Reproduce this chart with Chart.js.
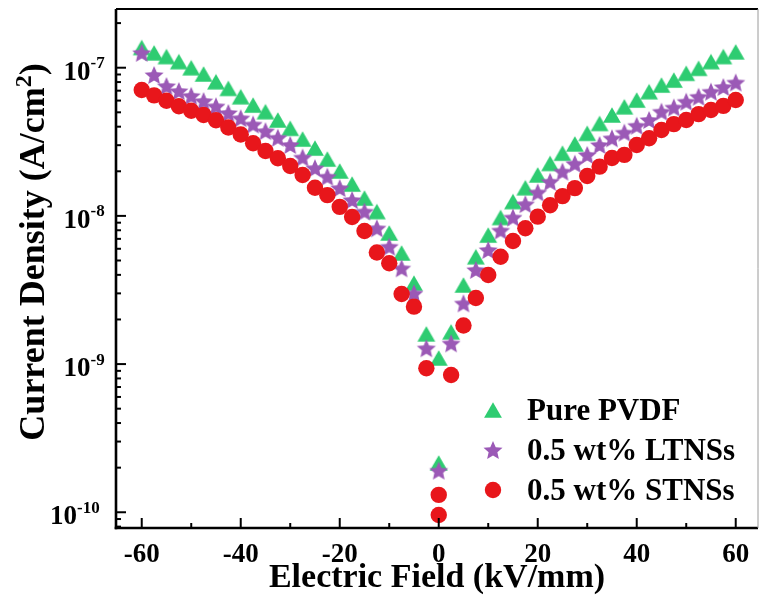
<!DOCTYPE html>
<html>
<head>
<meta charset="utf-8">
<title>J-E curves</title>
<script src="https://cdn.jsdelivr.net/npm/chart.js@4.4.1/dist/chart.umd.min.js"></script>
<style>
  body { margin: 0; background: #ffffff; }
  #wrap { width: 760px; height: 615px; }
</style>
</head>
<body>
<div id="wrap"><canvas id="jeChart"></canvas></div>
<script>
// electric field sweep in kV/mm (0 is measured twice: end of the negative sweep, start of the positive one)
const field = [-60, -57.5, -55, -52.5, -50, -47.5, -45, -42.5, -40, -37.5, -35, -32.5,
  -30, -27.5, -25, -22.5, -20, -17.5, -15, -12.5, -10, -7.5, -5, -2.5,
  0, 0,
  2.5, 5, 7.5, 10, 12.5, 15, 17.5, 20, 22.5, 25, 27.5, 30,
  32.5, 35, 37.5, 40, 42.5, 45, 47.5, 50, 52.5, 55, 57.5, 60];

// current density, A/cm2
const pvdf = [1.37e-7, 1.26e-7, 1.19e-7, 1.10e-7, 1.00e-7, 9.07e-8, 8.04e-8, 7.26e-8, 6.37e-8, 5.60e-8, 5.05e-8, 4.44e-8,
  3.90e-8, 3.30e-8, 2.87e-8, 2.42e-8, 2.01e-8, 1.64e-8, 1.32e-8, 1.07e-8, 7.67e-9, 5.62e-9, 3.52e-9, 1.60e-9,
  1.10e-9, 2.15e-10,
  1.65e-9, 3.42e-9, 5.30e-9, 7.43e-9, 9.76e-9, 1.25e-8, 1.55e-8, 1.89e-8, 2.26e-8, 2.65e-8, 3.06e-8, 3.61e-8,
  4.21e-8, 4.80e-8, 5.45e-8, 6.05e-8, 6.89e-8, 7.64e-8, 8.26e-8, 9.17e-8, 9.91e-8, 1.10e-7, 1.19e-7, 1.28e-7];

const ltns = [1.26e-7, 8.93e-8, 7.52e-8, 6.96e-8, 6.46e-8, 5.96e-8, 5.49e-8, 4.95e-8, 4.56e-8, 4.14e-8, 3.73e-8, 3.37e-8,
  3.01e-8, 2.48e-8, 2.10e-8, 1.84e-8, 1.54e-8, 1.28e-8, 1.07e-8, 8.25e-9, 6.20e-9, 4.43e-9, 3.00e-9, 1.28e-9,
  1.91e-10, null,
  1.38e-9, 2.57e-9, 4.32e-9, 5.89e-9, 7.97e-9, 9.76e-9, 1.20e-8, 1.44e-8, 1.70e-8, 1.99e-8, 2.25e-8, 2.58e-8,
  3.01e-8, 3.34e-8, 3.65e-8, 4.06e-8, 4.44e-8, 5.05e-8, 5.39e-8, 5.90e-8, 6.37e-8, 6.89e-8, 7.41e-8, 7.95e-8];

const stns = [7.07e-8, 6.51e-8, 5.98e-8, 5.49e-8, 5.12e-8, 4.80e-8, 4.42e-8, 3.95e-8, 3.54e-8, 3.09e-8, 2.74e-8, 2.45e-8,
  2.17e-8, 1.89e-8, 1.55e-8, 1.38e-8, 1.15e-8, 9.83e-9, 7.91e-9, 5.66e-9, 4.79e-9, 2.97e-9, 2.44e-9, 9.37e-10,
  1.31e-10, 9.59e-11,
  8.44e-10, 1.82e-9, 2.79e-9, 3.99e-9, 5.30e-9, 6.77e-9, 8.25e-9, 9.88e-9, 1.18e-8, 1.36e-8, 1.54e-8, 1.86e-8,
  2.15e-8, 2.46e-8, 2.58e-8, 3.01e-8, 3.34e-8, 3.80e-8, 4.16e-8, 4.44e-8, 4.86e-8, 5.18e-8, 5.53e-8, 6.05e-8];

const seriesNames = ['Pure PVDF', '0.5 wt% LTNSs', '0.5 wt% STNSs'];
const xTicks = [-60, -40, -20, 0, 20, 40, 60];
const xMinorTicks = [-50, -30, -10, 10, 30, 50];
const yDecades = [-10, -9, -8, -7];

const FONT = '"Liberation Serif", "Times New Roman", serif';
const GREEN = '#2ecc71';
const PURPLE = '#9b59b6';
const RED = '#e8161b';

function trianglePath(g, cx, cy, r) {
  const w = r * Math.sqrt(3), h = 1.5 * r;
  g.beginPath();
  g.moveTo(cx, cy - h / 2);
  g.lineTo(cx + w / 2, cy + h / 2);
  g.lineTo(cx - w / 2, cy + h / 2);
  g.closePath();
}

function starPath(g, cx, cy, R, r) {
  g.beginPath();
  for (let i = 0; i < 10; i++) {
    const rad = i % 2 ? r : R;
    const a = -Math.PI / 2 + i * Math.PI / 5;
    g.lineTo(cx + rad * Math.cos(a), cy + rad * Math.sin(a));
  }
  g.closePath();
}

function markerCanvas(size, pathFn, color) {
  const c = document.createElement('canvas');
  c.width = size; c.height = size;
  const g = c.getContext('2d');
  pathFn(g, size / 2);
  g.fillStyle = color;
  g.fill();
  return c;
}

const triImg = markerCanvas(24, (g, m) => trianglePath(g, m, m, 10.3), GREEN);
const starImg = markerCanvas(24, (g, m) => starPath(g, m, m + 0.9, 10, 4.6), PURPLE);

function pts(vals) {
  return field.map((x, i) => ({ x: x, y: vals[i] })).filter(p => p.y != null);
}

function line(ctx, x1, y1, x2, y2) {
  ctx.beginPath(); ctx.moveTo(x1, y1); ctx.lineTo(x2, y2); ctx.stroke();
}

// frame, inward ticks, 10^n labels, rotated y title and the legend
const decor = {
  id: 'decor',
  afterDraw(chart) {
    const ctx = chart.ctx;
    const a = chart.chartArea;
    const xs = chart.scales.x, ys = chart.scales.y;
    ctx.save();

    ctx.strokeStyle = '#000';
    ctx.lineWidth = 2;
    xTicks.forEach(v => { const px = xs.getPixelForValue(v); line(ctx, px, a.bottom, px, a.bottom - 10); });
    xMinorTicks.forEach(v => { const px = xs.getPixelForValue(v); line(ctx, px, a.bottom, px, a.bottom - 5); });

    for (let e = yDecades[0] - 1; e <= yDecades[yDecades.length - 1]; e++) {
      for (let k = 1; k <= 9; k++) {
        const v = k * Math.pow(10, e);
        if (v < ys.min || v > ys.max) continue;
        const py = ys.getPixelForValue(v);
        line(ctx, a.left, py, a.left + (k === 1 ? 10 : 5), py);
      }
    }

    // axes box
    ctx.lineWidth = 2.6;
    line(ctx, a.left, a.top, a.left, a.bottom + 1.3);
    line(ctx, a.left - 1.3, a.bottom, a.right, a.bottom);
    ctx.lineWidth = 2;
    line(ctx, a.left, a.top, a.right, a.top);
    ctx.strokeStyle = '#9a9a9a';
    ctx.lineWidth = 1;
    line(ctx, a.right, a.top, a.right, a.bottom);

    // y tick labels with superscript exponents
    ctx.fillStyle = '#000';
    ctx.textAlign = 'left';
    ctx.textBaseline = 'alphabetic';
    yDecades.forEach(e => {
      const py = ys.getPixelForValue(Math.pow(10, e));
      const sup = String(e);
      ctx.font = 'bold 27px ' + FONT;
      const wBase = ctx.measureText('10').width;
      const x0 = a.left - 3 - wBase - ctx.measureText(sup).width;
      ctx.fillText('10', x0, py + 12);
      ctx.font = 'bold 17px ' + FONT;
      ctx.fillText(sup, x0 + wBase, py + 0.5);
    });

    // y axis title
    ctx.save();
    ctx.translate(43.5, 252);
    ctx.rotate(-Math.PI / 2);
    const main = 'Current Density (A/cm';
    ctx.font = 'bold 36px ' + FONT;
    const wMain = ctx.measureText(main).width;
    const wClose = ctx.measureText(')').width;
    ctx.font = 'bold 24px ' + FONT;
    const wSup = ctx.measureText('2').width;
    let tx = -(wMain + wSup + wClose) / 2;
    ctx.font = 'bold 36px ' + FONT;
    ctx.fillText(main, tx, 0);
    tx += wMain;
    ctx.font = 'bold 24px ' + FONT;
    ctx.fillText('2', tx, -13);
    tx += wSup;
    ctx.font = 'bold 36px ' + FONT;
    ctx.fillText(')', tx, 0);
    ctx.restore();

    // legend
    const rows = [410, 450, 490];
    const marks = [triImg, starImg, null];
    ctx.font = 'bold 31px ' + FONT;
    rows.forEach((ry, i) => {
      if (marks[i]) {
        ctx.drawImage(marks[i], 493 - 12, ry - 12);
      } else {
        ctx.fillStyle = RED;
        ctx.beginPath(); ctx.arc(493, ry, 8.2, 0, Math.PI * 2); ctx.fill();
      }
      ctx.fillStyle = '#000';
      ctx.fillText(seriesNames[i], 527, ry + 10);
    });

    ctx.restore();
  }
};

new Chart(document.getElementById('jeChart'), {
  type: 'scatter',
  data: {
    datasets: [
      { label: seriesNames[0], data: pts(pvdf), pointStyle: triImg, pointRadius: 9, backgroundColor: GREEN, order: 3 },
      { label: seriesNames[1], data: pts(ltns), pointStyle: starImg, pointRadius: 9, backgroundColor: PURPLE, order: 2 },
      { label: seriesNames[2], data: pts(stns), pointStyle: 'circle', pointRadius: 8.2, borderWidth: 0,
        backgroundColor: RED, borderColor: RED, order: 1 }
    ]
  },
  options: {
    responsive: true,
    maintainAspectRatio: false,
    animation: false,
    layout: { autoPadding: false, padding: { top: 9, right: 2, left: 0, bottom: 0 } },
    plugins: { legend: { display: false }, tooltip: { enabled: false } },
    scales: {
      x: {
        type: 'linear',
        min: -65.2,
        max: 64.5,
        afterBuildTicks: s => { s.ticks = xTicks.map(v => ({ value: v })); },
        afterFit: s => { s.height = 87; s.paddingLeft = 0; s.paddingRight = 0; },
        grid: { display: false, drawTicks: false },
        border: { display: false },
        ticks: { color: '#000', font: { family: FONT, size: 27, weight: 'bold' }, padding: 11, maxRotation: 0 },
        title: {
          display: true,
          text: 'Electric Field (kV/mm)',
          color: '#000',
          font: { family: FONT, size: 34, weight: 'bold' },
          padding: { top: 0, bottom: 16 }
        }
      },
      y: {
        type: 'logarithmic',
        min: 7.83e-11,
        max: 2.49e-7,
        afterFit: s => { s.width = 116; },
        grid: { display: false, drawTicks: false },
        border: { display: false },
        ticks: { display: false }
      }
    }
  },
  plugins: [decor]
});
</script>
</body>
</html>
